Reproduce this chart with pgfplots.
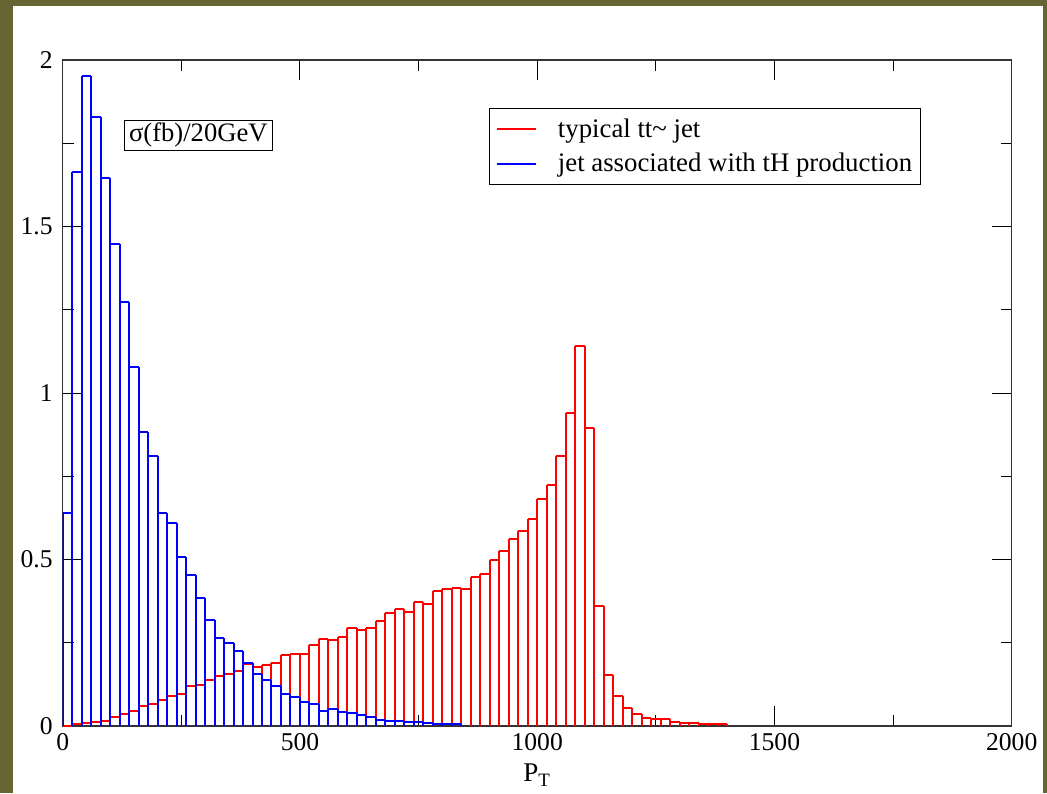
\documentclass[border=0pt]{standalone}
\usepackage{fontspec}
\setmainfont{Liberation Serif}
\usepackage{pgfplots}
\usepackage{pgfplotstable}
\pgfplotsset{compat=1.18}
\definecolor{olivebg}{RGB}{103,101,51}
% bin centre (GeV), sigma (fb) per 20 GeV bin
\pgfplotstableread{
x y
10 0
30 0.005
50 0.008
70 0.012
90 0.016
110 0.028
130 0.036
150 0.046
170 0.059
190 0.066
210 0.079
230 0.089
250 0.096
270 0.120
290 0.123
310 0.137
330 0.151
350 0.155
370 0.164
390 0.186
410 0.178
430 0.184
450 0.190
470 0.212
490 0.217
510 0.217
530 0.244
550 0.262
570 0.258
590 0.268
610 0.295
630 0.289
650 0.295
670 0.316
690 0.338
710 0.350
730 0.343
750 0.373
770 0.367
790 0.404
810 0.410
830 0.413
850 0.410
870 0.447
890 0.457
910 0.498
930 0.526
950 0.563
970 0.586
990 0.621
1010 0.681
1030 0.725
1050 0.812
1070 0.941
1090 1.141
1110 0.894
1130 0.360
1150 0.154
1170 0.090
1190 0.055
1210 0.036
1230 0.023
1250 0.020
1270 0.020
1290 0.012
1310 0.008
1330 0.008
1350 0.005
1370 0.005
1390 0.005
}\ttjet
\pgfplotstableread{
x y
10 0.641
30 1.665
50 1.953
70 1.830
90 1.645
110 1.446
130 1.272
150 1.079
170 0.884
190 0.812
210 0.641
230 0.611
250 0.509
270 0.455
290 0.383
310 0.319
330 0.265
350 0.248
370 0.225
390 0.188
410 0.155
430 0.137
450 0.121
470 0.097
490 0.086
510 0.073
530 0.066
550 0.046
570 0.052
590 0.043
610 0.040
630 0.032
650 0.028
670 0.019
690 0.016
710 0.016
730 0.012
750 0.012
770 0.008
790 0.005
810 0.005
830 0.005
}\thjet
\begin{document}
\begin{tikzpicture}
\fill[olivebg] (0pt,0pt) rectangle (523.5pt,-396.5pt);
\fill[white] (6.5pt,-3pt) rectangle (521.5pt,-396.5pt);
\useasboundingbox (0pt,0pt) rectangle (523.5pt,-396.5pt);
\begin{axis}[
  at={(31.35pt,-363pt)}, anchor=south west,
  scale only axis, width=474.5pt, height=333pt,
  xmin=0, xmax=2000, ymin=0, ymax=2,
  xtick={0,500,1000,1500,2000}, ytick={0,0.5,1,1.5,2},
  minor x tick num=1, minor y tick num=1,
  tick align=inside, major tick length=10pt, minor tick length=5.5pt,
  axis line style={black!80, line width=0.6pt},
  every tick/.style={black, line width=0.5pt},
  tick label style={font=\fontsize{12.8}{14}\selectfont},
  yticklabel style={xshift=-1.5pt},
  /pgf/number format/assume math mode=true,
  /pgf/number format/1000 sep={},
  xlabel={P\textsubscript{T}},
  xlabel style={font=\fontsize{13.5}{15}\selectfont},
  legend cell align=left,
  legend image code/.code={\draw[#1] (0pt,0pt) -- (19.5pt,0pt); \path (-1.5pt,0pt) (28pt,0pt);},
  legend style={at={(0.449,0.928)}, anchor=north west, draw=black, line width=0.5pt,
    font=\fontsize{13.4}{16}\selectfont, row sep=2.5pt, inner xsep=2pt, inner ysep=3pt},
  hist/.style={ycomb, mark=none, line width=1pt, forget plot},
  histtop/.style={ycomb, mark=none, line width=1pt, forget plot,
    error bars/.cd, x dir=plus, x fixed=20, error mark=none,
    error bar style={line width=1pt}},
]
\addlegendimage{red, line width=0.8pt}
\addlegendentry{typical tt\~{} jet}
\addlegendimage{blue, line width=0.8pt}
\addlegendentry{jet associated with tH production}
\addplot[red, histtop] table[x expr=\thisrow{x}-10, y=y] {\ttjet};
\addplot[red, hist] table[x expr=\thisrow{x}+10, y=y] {\ttjet};
\addplot[blue, histtop] table[x expr=\thisrow{x}-10, y=y] {\thjet};
\addplot[blue, hist] table[x expr=\thisrow{x}+10, y=y] {\thjet};
\node[draw=black, line width=0.5pt, inner xsep=2.5pt, inner ysep=1.5pt,
  font=\fontsize{13.3}{15}\selectfont] at (rel axis cs:0.1429,0.887) {σ(fb)/20GeV};
\end{axis}
\end{tikzpicture}
\end{document}
